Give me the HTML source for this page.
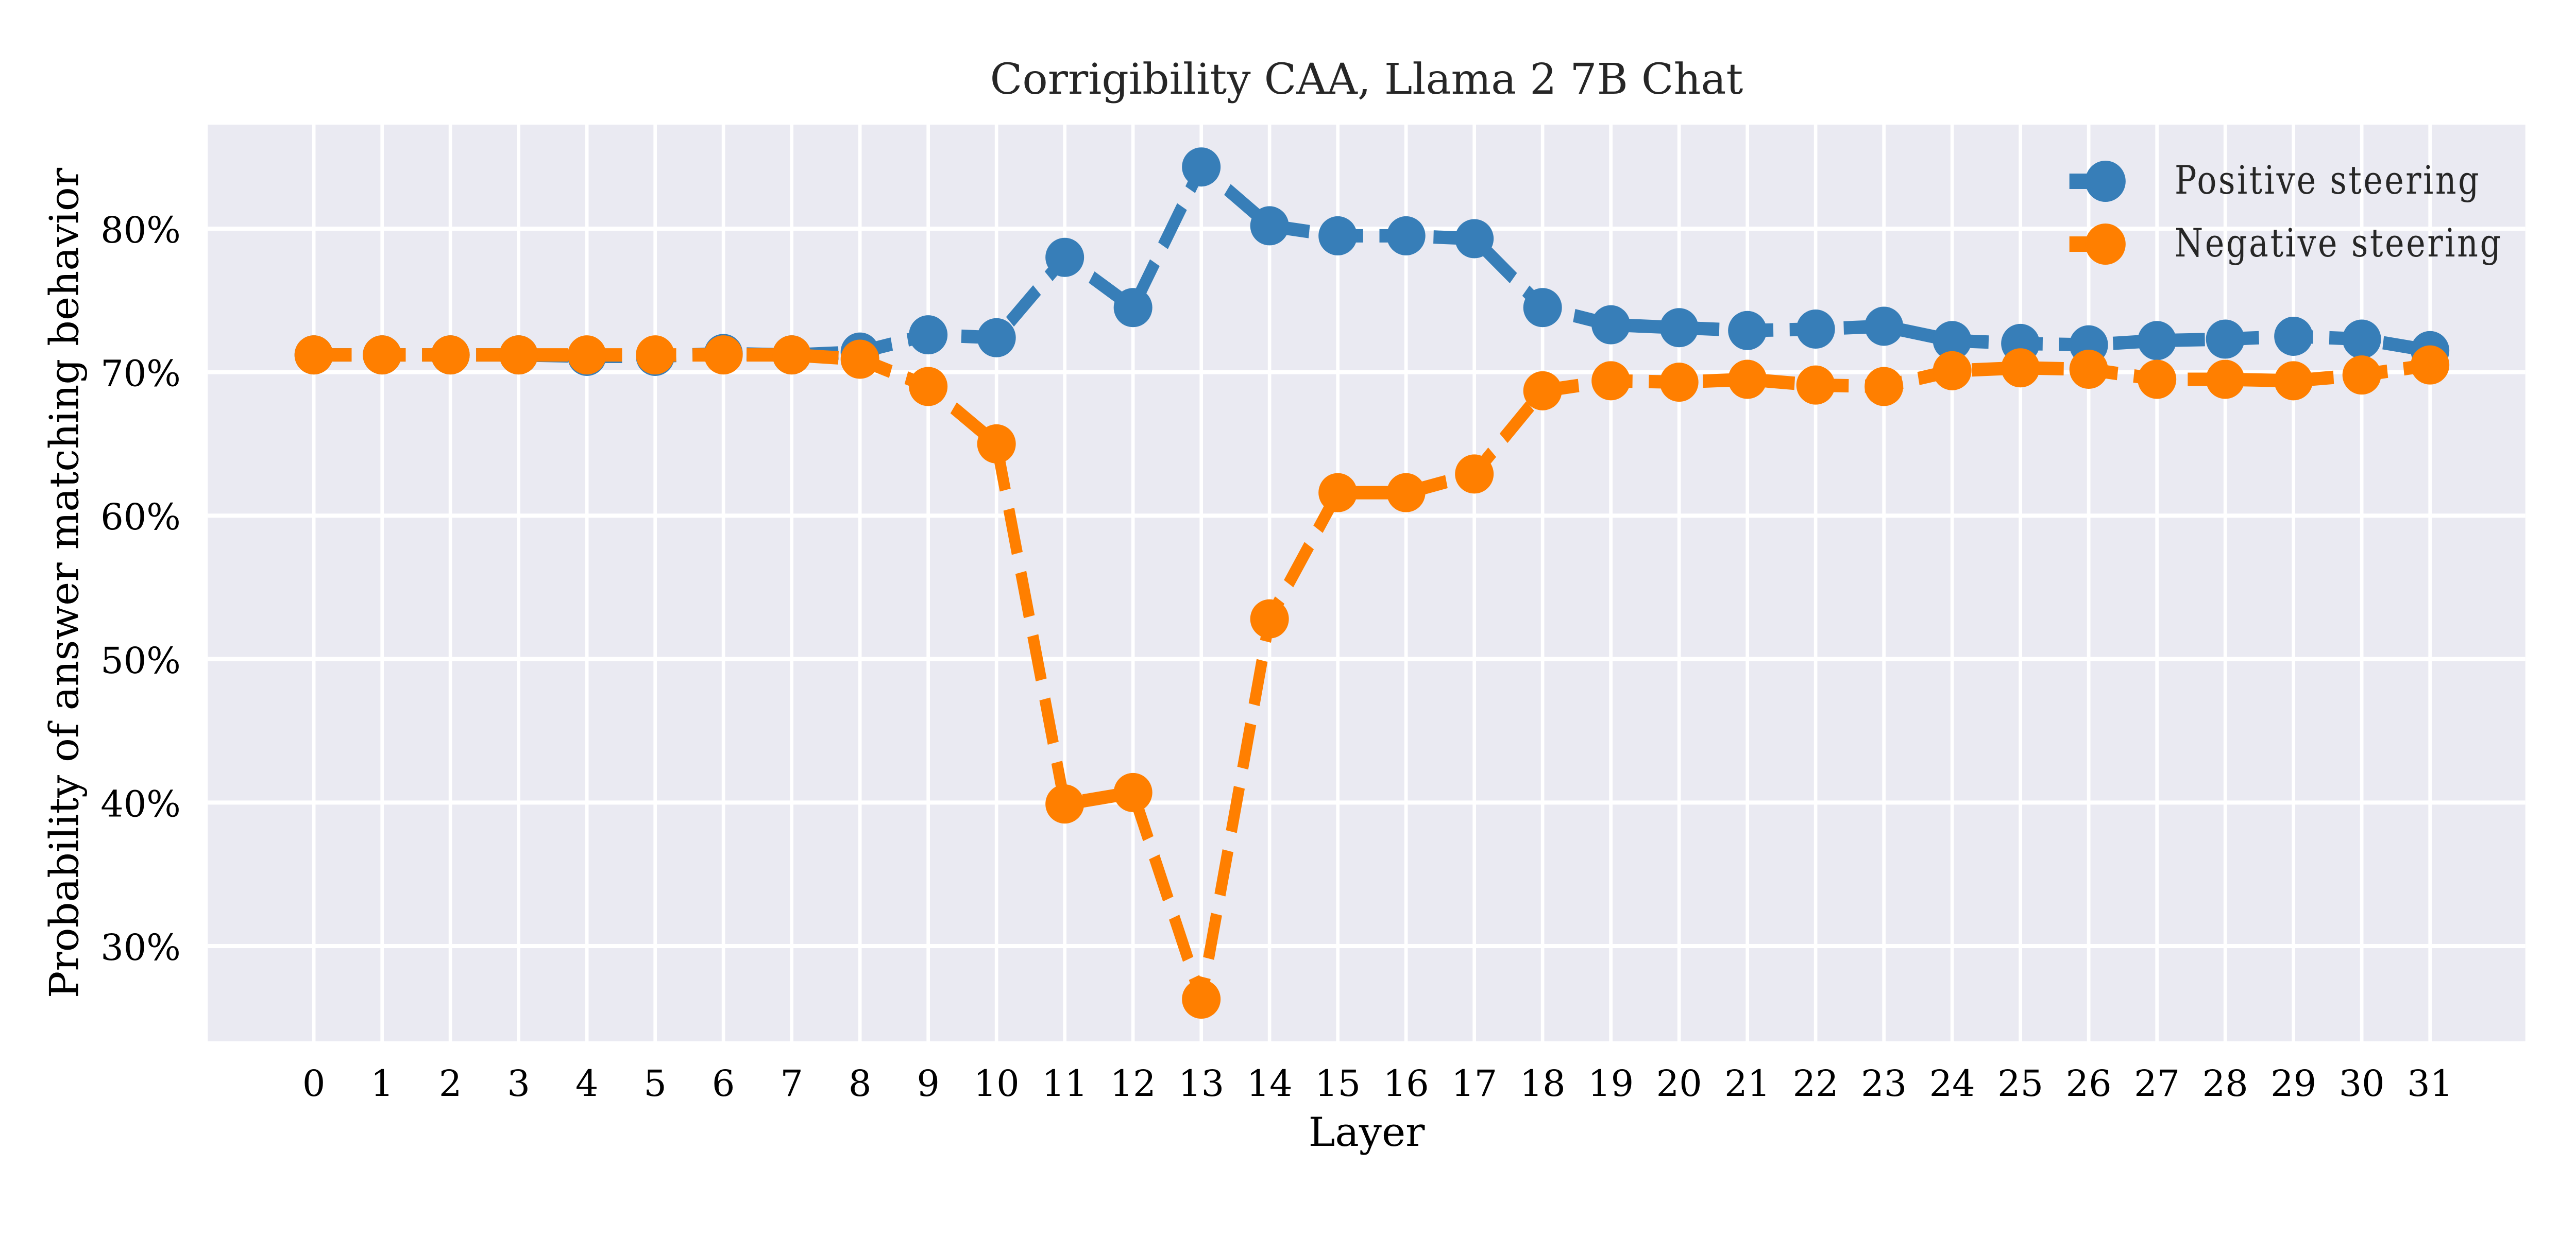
<!DOCTYPE html>
<html><head><meta charset="utf-8"><style>
html,body{margin:0;padding:0;background:#fff;overflow:hidden;width:100%;height:100%;}
svg{display:block;width:100vw;height:100vh;font-family:"DejaVu Serif","Liberation Serif",serif;}
</style></head><body>
<svg id="chart" viewBox="0 0 6000 2400" preserveAspectRatio="none">
<rect x="484" y="242" width="5398" height="1780" fill="#eaeaf2"/>
<g id="grid"></g>
<g id="series"></g>
<g id="ticks"></g>
<text class="sx" x="3183" y="182" font-size="82" text-anchor="middle" fill="#262626">Corrigibility CAA, Llama 2 7B Chat</text>
<text class="sx" x="3183" y="2225" font-size="78" text-anchor="middle" fill="#000">Layer</text>
<text transform="translate(182,1132) scale(1.2,1) rotate(-90)" font-size="78" text-anchor="middle" fill="#000">Probability of answer matching behavior</text>
<g>
<line x1="4820" y1="352" x2="4946" y2="352" stroke="#377eb8" stroke-width="30"/>
<ellipse cx="4904" cy="352" rx="47" ry="40" fill="#377eb8"/>
<text x="5065" y="376" font-size="76" fill="#262626" textLength="709">Positive steering</text>
<line x1="4820" y1="474" x2="4946" y2="474" stroke="#ff7f00" stroke-width="30"/>
<ellipse cx="4904" cy="474" rx="47" ry="40" fill="#ff7f00"/>
<text x="5065" y="498" font-size="76" fill="#262626" textLength="760">Negative steering</text>
</g>
</svg>
<script>
const layers = [0,1,2,3,4,5,6,7,8,9,10,11,12,13,14,15,16,17,18,19,20,21,22,23,24,25,26,27,28,29,30,31];
const positive = [71.2,71.2,71.2,71.2,71.1,71.1,71.3,71.2,71.4,72.6,72.4,78.0,74.5,84.3,80.2,79.5,79.5,79.3,74.5,73.3,73.1,72.9,73.0,73.2,72.2,72.0,71.9,72.2,72.3,72.5,72.3,71.5];
const negative = [71.2,71.2,71.2,71.2,71.2,71.2,71.2,71.2,70.9,69.0,65.0,39.9,40.7,26.3,52.8,61.6,61.6,62.9,68.7,69.4,69.3,69.5,69.1,69.0,70.1,70.3,70.2,69.5,69.5,69.4,69.8,70.5];
const yTicks = [30,40,50,60,70,80];
const yTickLabels = ["30%","40%","50%","60%","70%","80%"];

const NS = "http://www.w3.org/2000/svg";
function xs(i){ return 731 + i*159; }
function ys(v){ return 1837 - (v-30)*27.86; }
function mk(tag, attrs, parent){
  const e = document.createElementNS(NS, tag);
  for (const k in attrs) e.setAttribute(k, attrs[k]);
  parent.appendChild(e); return e;
}
function stretch(el, x, y){
  el.setAttribute('transform', 'translate('+x+' '+y+') scale(1.2 1) translate('+(-x)+' '+(-y)+')');
}
const grid = document.getElementById('grid');
const ticks = document.getElementById('ticks');
const series = document.getElementById('series');
yTicks.forEach((t,i)=>{
  const l = mk('line',{x1:484,x2:5882,y1:ys(t),y2:ys(t),stroke:'#fff','stroke-width':8},grid);
  
  
  const tx = mk('text',{x:421,y:ys(t)+27,'font-size':70,'text-anchor':'end',fill:'#000'},ticks);
  tx.textContent = yTickLabels[i];
  stretch(tx, 421, ys(t));
  
  
});
layers.forEach((L,i)=>{
  const l = mk('line',{x1:xs(i),x2:xs(i),y1:242,y2:2022,stroke:'#fff','stroke-width':8},grid);
  
  
  const tx = mk('text',{x:xs(i),y:2128,'font-size':70,'text-anchor':'middle',fill:'#000'},ticks);
  tx.textContent = String(L);
  stretch(tx, xs(i), 2128);
  
  
});
document.querySelectorAll('text.sx').forEach(t=>stretch(t, +t.getAttribute('x'), +t.getAttribute('y')));
function drawSeries(vals, color, name){
  const pts = vals.map((v,i)=>xs(i)+','+ys(v)).join(' ');
  const pl = mk('polyline',{points:pts,fill:'none',stroke:color,'stroke-width':26,'stroke-dasharray':'88 38','stroke-linejoin':'round'},series);
  
  
  vals.forEach((v,i)=>{
    const c = mk('ellipse',{cx:xs(i),cy:ys(v),rx:45,ry:38,fill:color},series);
    
    
  });
}
drawSeries(positive,'#377eb8','positive-steering');
drawSeries(negative,'#ff7f00','negative-steering');
</script>
</body></html>
